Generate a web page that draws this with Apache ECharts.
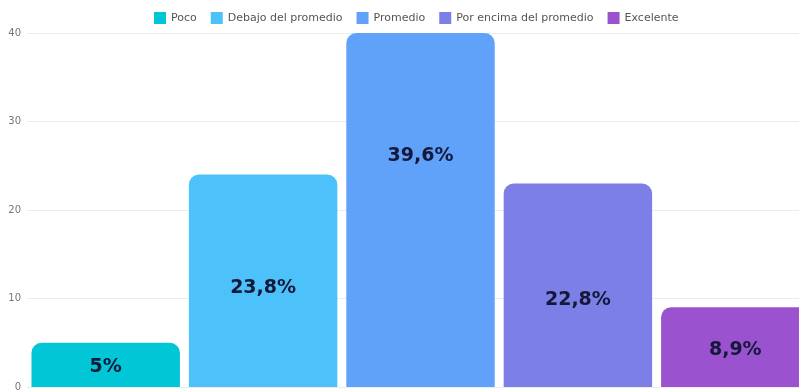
<!DOCTYPE html>
<html>
<head>
<meta charset="utf-8">
<script src="https://cdn.jsdelivr.net/npm/echarts@6/dist/echarts.min.js"></script>
<style>
  html, body { margin: 0; padding: 0; background: #ffffff; }
  #chart { width: 799px; height: 392px; }
</style>
</head>
<body>
<div id="chart"></div>
<script>
// Response counts per rating level
const categories = ['Poco', 'Debajo del promedio', 'Promedio', 'Por encima del promedio', 'Excelente'];
const counts = [5, 24, 40, 23, 9];
const yTicks = [0, 10, 20, 30, 40];

// Styling
const colors = ['#00c6d6', '#4dc2fa', '#60a1f9', '#7c7fe6', '#9b52cf'];
const labelOffsets = [[0, 2], [0, 7], [0, -54], [0, 15], [0, 3]];

const total = counts.reduce((a, b) => a + b, 0);
const pctText = v => {
  const p = Math.round(v / total * 1000) / 10;
  return String(p).replace('.', ',') + '%';
};

const series = categories.map((name, i) => ({
  name: name,
  type: 'bar',
  stack: 'all',
  barCategoryGap: '5.7%',
  data: categories.map((_, j) => (j === i ? counts[i] : '-')),
  itemStyle: { color: colors[i], borderRadius: [10, 10, 0, 0] },
  label: {
    show: true,
    position: 'inside',
    offset: labelOffsets[i],
    formatter: p => pctText(p.value),
    fontFamily: 'DejaVu Sans',
    fontWeight: 'bold',
    fontSize: 19,
    color: '#14183a'
  }
}));

const chart = echarts.init(document.getElementById('chart'), null, { renderer: 'canvas' });
chart.setOption({
  animation: false,
  textStyle: { fontFamily: 'DejaVu Sans' },
  legend: {
    left: 149,
    top: 7,
    itemWidth: 12,
    itemHeight: 12,
    itemGap: 14,
    icon: 'rect',
    textStyle: { fontSize: 11, color: '#555', fontFamily: 'DejaVu Sans' },
    data: categories
  },
  grid: { left: 27, top: 33, width: 787, bottom: 5, outerBoundsMode: 'none' },
  xAxis: {
    type: 'category',
    data: categories,
    axisLine: { show: false },
    axisTick: { show: false },
    axisLabel: { show: false }
  },
  yAxis: {
    type: 'value',
    min: yTicks[0],
    max: yTicks[yTicks.length - 1],
    interval: 10,
    axisLabel: { color: '#777', fontSize: 10, margin: 6, fontFamily: 'DejaVu Sans' },
    splitLine: { lineStyle: { color: '#ececec' } }
  },
  series: series
});
</script>
</body>
</html>
